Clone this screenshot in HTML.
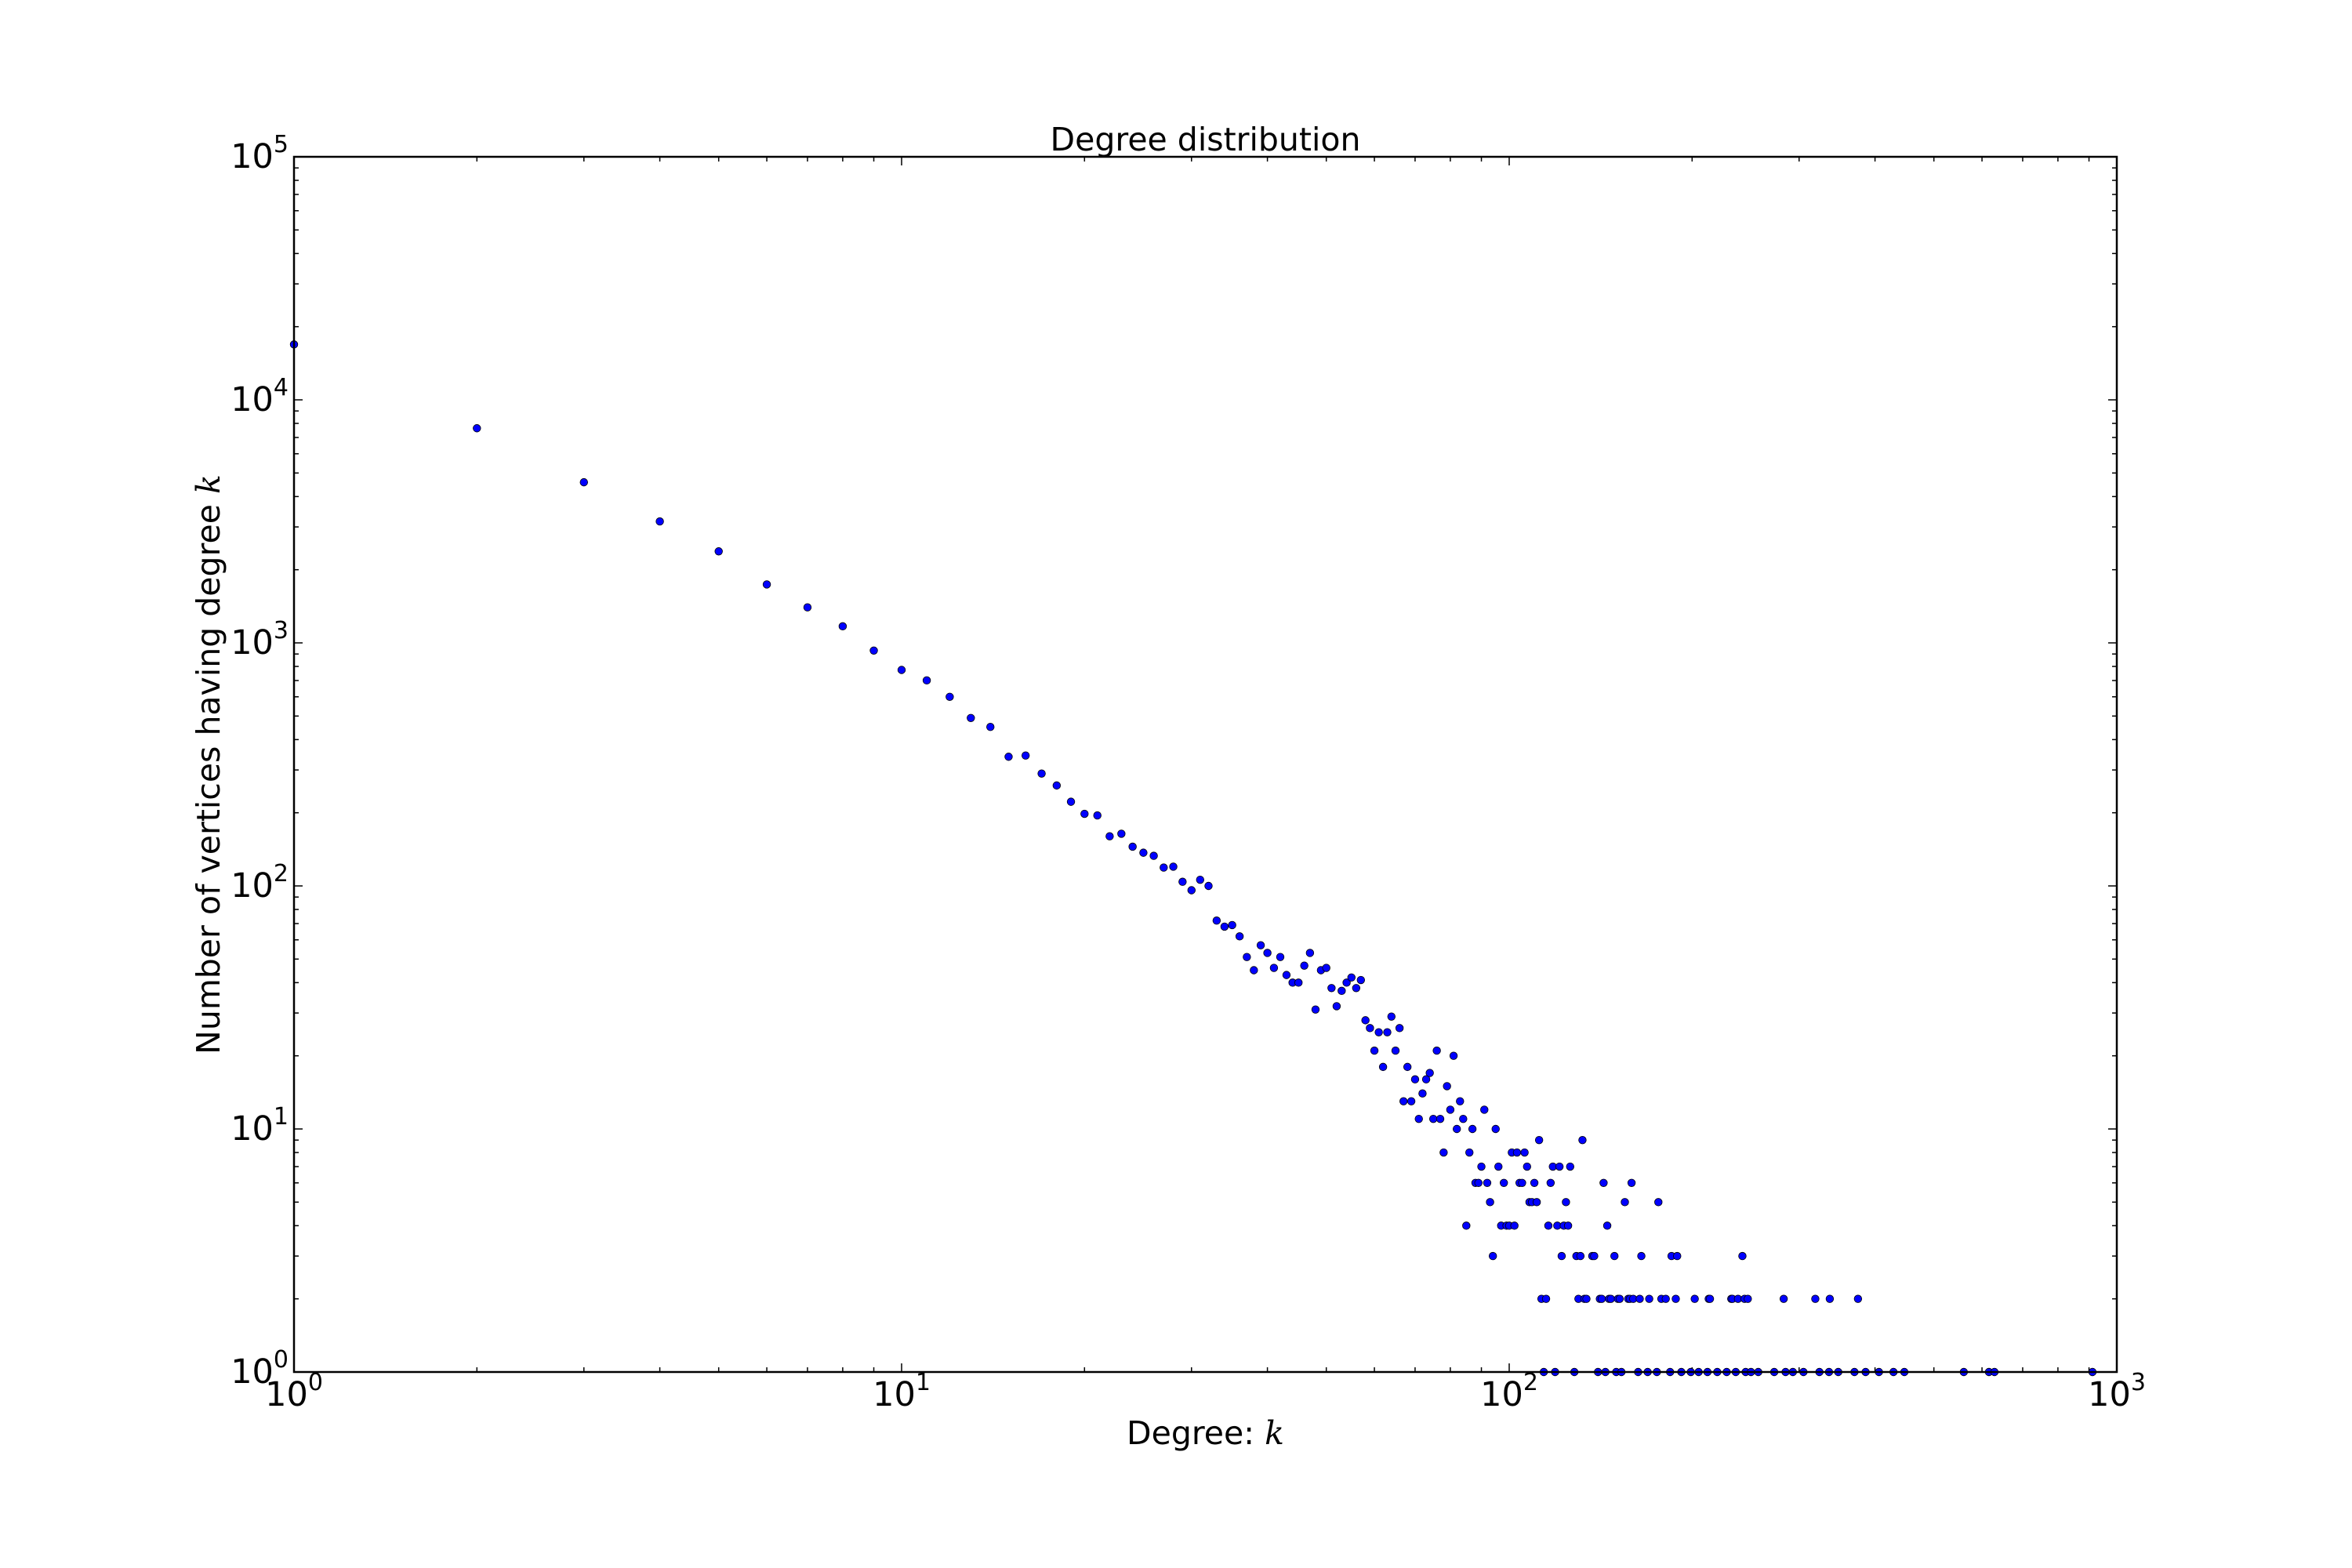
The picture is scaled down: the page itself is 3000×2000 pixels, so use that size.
<!DOCTYPE html>
<html><head><meta charset="utf-8"><title>Degree distribution</title>
<style>html,body{margin:0;padding:0;background:#fff;width:3000px;height:2000px;overflow:hidden}
svg text{font-family:"DejaVu Sans","Liberation Sans",sans-serif;fill:#000}</style></head>
<body>
<svg id="chart" width="3000" height="2000" viewBox="0 0 3000 2000" xmlns="http://www.w3.org/2000/svg">
<rect x="0" y="0" width="3000" height="2000" fill="#fff"/>
<text x="1537.5" y="192" font-size="41" text-anchor="middle">Degree distribution</text>
<text x="1537.5" y="1842" font-size="41" text-anchor="middle">Degree: <tspan font-family="'DejaVu Serif','Liberation Serif',serif" font-style="italic">k</tspan></text>
<text transform="translate(280,975) rotate(-90)" font-size="41" text-anchor="middle">Number of vertices having degree <tspan font-family="'DejaVu Serif','Liberation Serif',serif" font-style="italic">k</tspan></text>
<g id="ticks"></g>
<g id="points"></g>
<rect x="375" y="200" width="2325" height="1550" fill="none" stroke="#000" stroke-width="2.5"/>
</svg>
<script>
const degrees = [1,2,3,4,5,6,7,8,9,10,11,12,13,14,15,16,17,18,19,20,21,22,23,24,25,26,27,28,29,30,31,32,33,34,35,36,37,38,39,40,41,42,43,44,45,46,47,48,49,50,51,52,53,54,55,56,57,
58,59,60,61,62,63,64,65,66,67,68,69,70,71,72,73,74,75,76,77,78,79,80,81,82,83,84,85,86,87,88,89,90,91,92,93,94,
95,96,97,98,99,100,101,102,103,104,105,106,107,108,109,110,111,112,113,114,115,116,117,118,119,120,121,122,123,124,125,126,128,129,130,131,132,133,134,137,138,140,141,142,143,144,145,146,147,149,150,151,152,153,155,157,158,159,160,163,164,165,169,170,175,176,178,181,184,185,188,189,192,199,202,205,212,213,214,220,228,232,233,236,238,242,244,245,247,250,257,273,283,285,293,305,319,324,336,337,348,370,375,386,406,429,447,560,616,629,912];
const counts = [16900,7640,4580,3160,2380,1740,1400,1170,930,774,701,600,491,451,340,344,290,259,222,198,195,160,164,145,137,133,119,120,104,96,106,100,72,68,69,62,51,45,57,53,46,51,43,40,40,47,53,31,45,46,38,32,37,40,42,38,41,
28,26,21,25,18,25,29,21,26,13,18,13,16,11,14,16,17,11,21,11,8,15,12,20,10,13,11,4,8,10,6,6,7,12,6,5,3,
10,7,4,6,4,4,8,4,8,6,6,8,7,5,5,6,5,9,2,1,2,4,6,7,1,4,7,3,4,5,4,7,1,3,2,3,9,2,2,3,3,1,2,2,6,1,4,2,2,3,1,2,2,1,5,2,2,6,2,1,2,3,1,2,1,5,2,2,1,3,2,3,1,1,2,1,1,2,2,1,1,2,2,1,2,3,2,1,2,1,1,1,2,1,1,1,2,1,1,2,1,1,2,1,1,1,1,1,1,1,1];
const xDecades = [0,1,2,3];
const yDecades = [0,1,2,3,4,5];

const NS='http://www.w3.org/2000/svg';
const L=375,R=2700,T=200,B=1750;
const xMin=0,xMax=3,yMin=0,yMax=5;
function xs(v){return L+(Math.log10(v)-xMin)/(xMax-xMin)*(R-L);}
function ys(v){return B-(Math.log10(v)-yMin)/(yMax-yMin)*(B-T);}
function mk(tag,attrs){const e=document.createElementNS(NS,tag);for(const k in attrs)e.setAttribute(k,attrs[k]);return e;}
const tg=document.getElementById('ticks');
function line(x1,y1,x2,y2,name){const l=mk('line',{x1:x1,y1:y1,x2:x2,y2:y2,stroke:'#000','stroke-width':1.5});


tg.appendChild(l);}
function powLabel(x,y,exp,anchor,name){
  const t=mk('text',{x:x,y:y,'font-size':43,'text-anchor':anchor});
  
  
  t.appendChild(document.createTextNode('10'));
  const s=mk('tspan',{'font-size':30,dy:-20});s.textContent=String(exp);t.appendChild(s);
  tg.appendChild(t);}
// x ticks
xDecades.forEach(d=>{const v=Math.pow(10,d);const x=xs(v);
  line(x,B,x,B-11,'x-major-tick');line(x,T,x,T+11,'x-major-tick-top');
  powLabel(x,1793,d,'middle','x-tick-label');
  if(d<xDecades[xDecades.length-1]) for(let m=2;m<10;m++){const xm=xs(m*v);line(xm,B,xm,B-6,'x-minor-tick');line(xm,T,xm,T+6,'x-minor-tick-top');}
});
// y ticks
yDecades.forEach(d=>{const v=Math.pow(10,d);const y=ys(v);
  line(L,y,L+11,y,'y-major-tick');line(R,y,R-11,y,'y-major-tick-top');
  powLabel(368,y+14,d,'end','y-tick-label');
  if(d<yDecades[yDecades.length-1]) for(let m=2;m<10;m++){const ym=ys(m*v);line(L,ym,L+6,ym,'y-minor-tick');line(R,ym,R-6,ym,'y-minor-tick-right');}
});
const pg=document.getElementById('points');
degrees.forEach((k,i)=>{
  const c=mk('circle',{cx:xs(k),cy:ys(counts[i]),r:4.8,fill:'#0000ff',stroke:'#000','stroke-width':0.8});
  
  
  pg.appendChild(c);
});
</script>
</body></html>
